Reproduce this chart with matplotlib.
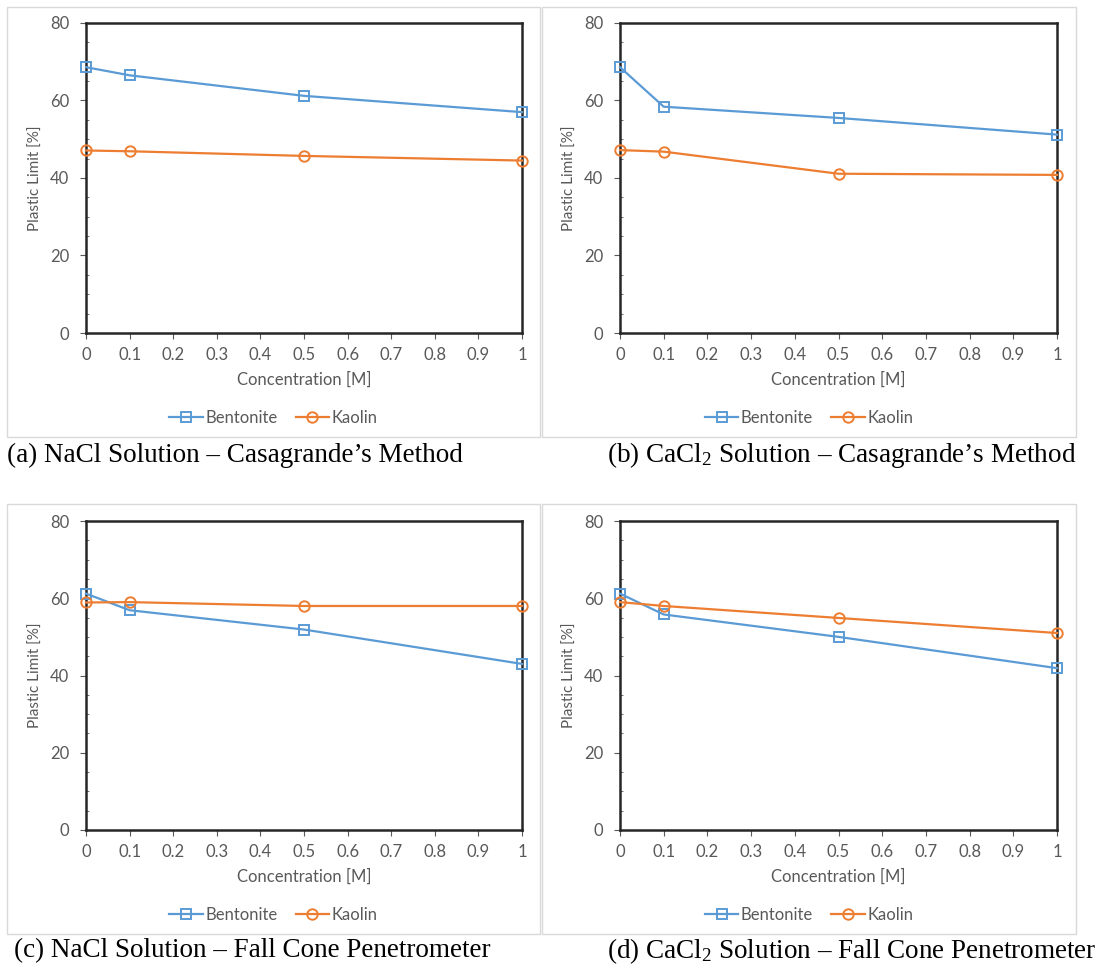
import numpy as np
import matplotlib
matplotlib.use("Agg")
import matplotlib.pyplot as plt
from matplotlib.patches import Rectangle

plt.rcParams["mathtext.fontset"] = "custom"
plt.rcParams["mathtext.rm"] = "Liberation Serif"
plt.rcParams["mathtext.it"] = "Liberation Serif:italic"
plt.rcParams["mathtext.bf"] = "Liberation Serif:bold"

# concentrations [M]
conc = [0, 0.1, 0.5, 1]

# plastic limit [%]
nacl_casa_bent = [68.6, 66.5, 61.2, 57.0]
nacl_casa_kaol = [47.1, 46.9, 45.7, 44.5]
cacl_casa_bent = [68.6, 58.4, 55.5, 51.2]
cacl_casa_kaol = [47.2, 46.8, 41.1, 40.8]
nacl_cone_bent = [61.2, 56.9, 51.9, 43.0]
nacl_cone_kaol = [58.9, 59.0, 58.0, 58.0]
cacl_cone_bent = [61.2, 55.8, 50.0, 41.9]
cacl_cone_kaol = [59.0, 58.0, 54.9, 51.0]

xticks = [0, 0.1, 0.2, 0.3, 0.4, 0.5, 0.6, 0.7, 0.8, 0.9, 1]
xticklabels = ["0", "0.1", "0.2", "0.3", "0.4", "0.5", "0.6", "0.7", "0.8", "0.9", "1"]
yticks = [0, 20, 40, 60, 80]

captions = [
    "(a) NaCl Solution \u2013 Casagrande\u2019s Method",
    "(b) CaCl$_2$ Solution \u2013 Casagrande\u2019s Method",
    "(c) NaCl Solution \u2013 Fall Cone Penetrometer",
    "(d) CaCl$_2$ Solution \u2013 Fall Cone Penetrometer",
]

W, H = 1112, 969
fig = plt.figure(figsize=(W / 100, H / 100), dpi=100)

blue = "#5B9BD5"
orange = "#ED7D31"
gray = "#595959"
sans = ["Lato", "DejaVu Sans"]


def px(x0, y0, x1, y1):
    # pixel box -> figure fraction
    return [x0 / W, 1 - y1 / H, (x1 - x0) / W, (y1 - y0) / H]


panels = [
    (nacl_casa_bent, nacl_casa_kaol, (86, 23, 522, 333), (7, 7, 540, 437), (7, 455)),
    (cacl_casa_bent, cacl_casa_kaol, (620, 23, 1057, 333), (542, 7, 1076, 437), (607, 455)),
    (nacl_cone_bent, nacl_cone_kaol, (86, 521, 522, 830), (7, 504, 540, 934), (14, 951)),
    (cacl_cone_bent, cacl_cone_kaol, (620, 521, 1057, 830), (542, 504, 1076, 934), (607, 951)),
]

for i, (bent, kaol, abox, cbox, cap) in enumerate(panels):
    # light chart-area border
    fig.patches.append(Rectangle((cbox[0] / W, 1 - cbox[3] / H), (cbox[2] - cbox[0]) / W,
                                 (cbox[3] - cbox[1]) / H, transform=fig.transFigure,
                                 fill=False, edgecolor="#D9D9D9", linewidth=1.0))
    ax = fig.add_axes(px(*abox))
    ax.plot(conc, bent, color=blue, lw=1.6, marker="s", ms=7.5, mfc="none", mew=1.4,
            label="Bentonite", clip_on=False, zorder=3)
    ax.plot(conc, kaol, color=orange, lw=1.6, marker="o", ms=7.5, mfc="none", mew=1.4,
            label="Kaolin", clip_on=False, zorder=3)
    ax.set_xlim(0, 1)
    ax.set_ylim(0, 80)
    ax.set_xticks(xticks)
    ax.set_xticklabels(xticklabels)
    ax.set_yticks(yticks)
    ax.set_yticks(np.arange(0, 81, 5), minor=True)
    ax.tick_params(axis="both", which="major", direction="out", length=4, width=0.8,
                   color=gray, labelcolor=gray, labelsize=12)
    ax.tick_params(axis="y", which="major", pad=8)
    ax.tick_params(axis="x", which="major", pad=6)
    ax.tick_params(axis="y", which="minor", direction="in", length=2.5, width=0.6, color=gray)
    for lab in ax.get_xticklabels() + ax.get_yticklabels():
        lab.set_family(sans)
    for s in ax.spines.values():
        s.set_color("#262626")
        s.set_linewidth(1.8)
    ax.set_xlabel("Concentration [M]", fontsize=12, color=gray, family=sans)
    ax.xaxis.set_label_coords(0.5, -0.125)
    ax.set_ylabel("Plastic Limit [%]", fontsize=11, color=gray, family=sans)
    ax.yaxis.set_label_coords(-0.098, 0.5)
    lx = ((cbox[0] + cbox[2]) / 2 - abox[0]) / (abox[2] - abox[0])
    ax.legend(loc="center", bbox_to_anchor=(lx, -0.275), ncol=2, frameon=False,
              prop={"family": sans, "size": 12}, labelcolor=gray, handlelength=2.0,
              handletextpad=0.15, columnspacing=1.1)
    fig.text(cap[0] / W, 1 - cap[1] / H, captions[i], fontsize=19.5, family="Liberation Serif",
             va="center", ha="left", color="black")

fig.savefig("out.png", dpi=100)
